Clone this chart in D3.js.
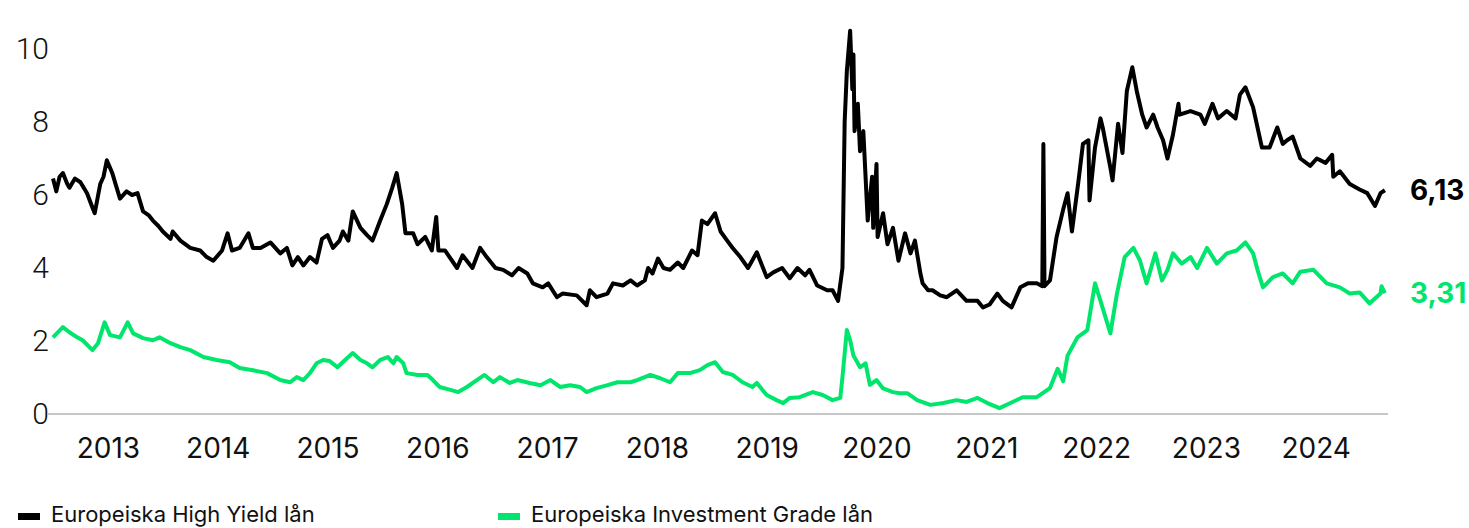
<!DOCTYPE html>
<html>
<head>
<meta charset="utf-8">
<script src="https://cdn.jsdelivr.net/npm/d3@7"></script>
<style>
  html, body { margin: 0; padding: 0; background: #fff; }
  svg { display: block; font-family: Inter, Roboto, sans-serif; }
</style>
</head>
<body>
<div id="chart"></div>
<script>
// decimal years + values
var hyDates = [2013.00,2013.03,2013.06,2013.09,2013.13,2013.15,2013.20,2013.25,2013.28,2013.31,2013.36,2013.38,2013.43,2013.46,2013.49,2013.54,2013.57,2013.61,2013.67,2013.72,2013.77,2013.82,2013.87,2013.91,2013.96,
  2014.00,2014.07,2014.09,2014.16,2014.25,2014.34,2014.40,2014.46,2014.54,2014.59,2014.63,2014.70,2014.78,2014.82,2014.89,2014.98,
  2015.07,2015.13,2015.18,2015.23,2015.28,2015.34,2015.40,2015.45,2015.50,2015.55,2015.61,2015.64,2015.69,2015.73,2015.80,2015.86,2015.91,2015.98,
  2016.04,2016.09,2016.13,2016.18,2016.21,2016.28,2016.32,2016.39,2016.45,2016.49,2016.51,2016.57,2016.68,2016.73,2016.82,2016.89,2016.95,
  2017.03,2017.10,2017.18,2017.24,2017.32,2017.37,2017.46,2017.51,2017.59,2017.64,2017.77,2017.86,2017.89,2017.95,
  2018.05,2018.10,2018.19,2018.26,2018.32,2018.39,2018.42,2018.46,2018.51,2018.56,2018.62,2018.69,2018.74,2018.82,2018.87,2018.91,2018.96,
  2019.03,2019.08,2019.14,2019.19,2019.26,2019.33,2019.41,2019.50,2019.56,2019.64,2019.71,2019.78,2019.85,2019.89,2019.96,
  2020.05,2020.10,2020.15,2020.19,2020.21,2020.23,2020.26,2020.28,2020.29,2020.30,2020.33,2020.35,2020.38,2020.42,2020.46,2020.47,2020.50,2020.51,2020.56,2020.60,2020.65,2020.70,2020.76,2020.81,2020.85,2020.90,2020.92,2020.97,
  2021.01,2021.08,2021.14,2021.23,2021.32,2021.42,2021.47,2021.53,2021.60,2021.65,2021.73,2021.81,2021.88,2021.96,
  2022.01,2022.02,2022.03,2022.08,2022.14,2022.20,2022.24,2022.28,2022.34,2022.38,2022.43,2022.44,2022.49,2022.54,2022.56,2022.63,2022.65,2022.70,2022.74,2022.78,2022.83,2022.87,2022.92,2022.96,
  2023.02,2023.06,2023.11,2023.15,2023.20,2023.25,2023.26,2023.36,2023.45,2023.49,2023.56,2023.61,2023.69,2023.77,2023.81,2023.86,2023.93,
  2024.01,2024.08,2024.15,2024.20,2024.24,2024.29,2024.36,2024.45,2024.51,2024.59,2024.65,2024.66,2024.72,2024.81,2024.90,2024.97,
  2025.04,2025.09,2025.13];
var hyValues = [6.45,6.10,6.50,6.60,6.30,6.20,6.45,6.35,6.20,6.05,5.65,5.50,6.30,6.50,6.95,6.60,6.30,5.90,6.10,6.00,6.05,5.55,5.45,5.30,5.15,
  5.00,4.80,5.00,4.75,4.55,4.48,4.30,4.20,4.48,4.95,4.48,4.55,4.95,4.55,4.55,4.70,
  4.40,4.55,4.07,4.30,4.07,4.30,4.15,4.80,4.90,4.55,4.75,5.00,4.75,5.55,5.10,4.90,4.75,5.30,
  5.75,6.20,6.60,5.75,4.95,4.95,4.65,4.85,4.48,5.40,4.48,4.48,4.00,4.35,4.00,4.55,4.30,
  4.00,3.95,3.80,4.00,3.85,3.58,3.47,3.58,3.20,3.30,3.25,2.98,3.39,3.20,
  3.30,3.58,3.52,3.66,3.52,3.66,4.00,3.85,4.26,4.00,3.95,4.15,4.00,4.48,4.35,5.30,5.20,
  5.50,5.00,4.75,4.55,4.30,4.00,4.43,3.75,3.88,4.00,3.72,4.00,3.80,3.95,3.52,
  3.39,3.39,3.10,4.00,8.00,9.40,10.50,8.90,9.85,7.75,8.50,7.20,7.75,5.30,6.50,5.10,6.85,4.85,5.50,4.65,5.10,4.20,4.95,4.40,4.75,3.85,3.58,3.39,
  3.39,3.25,3.20,3.39,3.10,3.10,2.92,3.00,3.30,3.10,2.92,3.47,3.58,3.58,
  3.50,7.40,3.50,3.66,4.85,5.60,6.05,5.00,6.40,7.40,7.50,5.85,7.30,8.10,7.85,6.75,6.40,7.95,7.15,8.85,9.50,8.85,8.20,7.85,
  8.20,7.85,7.50,7.00,7.65,8.50,8.20,8.30,8.20,7.95,8.50,8.10,8.30,8.10,8.75,8.95,8.40,
  7.30,7.30,7.85,7.40,7.50,7.60,7.00,6.80,7.00,6.88,7.10,6.50,6.65,6.30,6.15,6.05,
  5.70,6.05,6.13];

var igDates = [2013.00,2013.09,2013.15,2013.22,2013.27,2013.36,2013.41,2013.47,2013.52,2013.61,2013.68,2013.73,2013.82,2013.91,2013.97,
  2014.07,2014.16,2014.25,2014.37,2014.49,2014.61,2014.70,2014.82,2014.95,
  2015.07,2015.16,2015.22,2015.28,2015.34,2015.40,2015.46,2015.52,2015.59,2015.66,2015.73,2015.80,2015.86,2015.91,2015.98,
  2016.05,2016.10,2016.13,2016.19,2016.22,2016.32,2016.41,2016.46,2016.52,2016.62,2016.69,2016.77,2016.86,2016.93,
  2017.01,2017.07,2017.16,2017.23,2017.34,2017.44,2017.53,2017.62,2017.71,2017.80,2017.86,2017.95,
  2018.05,2018.14,2018.26,2018.32,2018.44,2018.53,2018.62,2018.69,2018.80,2018.89,2018.96,
  2019.03,2019.10,2019.19,2019.28,2019.37,2019.41,2019.50,2019.59,2019.65,2019.71,2019.80,2019.92,
  2020.01,2020.10,2020.17,2020.19,2020.23,2020.26,2020.29,2020.33,2020.35,2020.40,2020.44,2020.50,2020.56,2020.65,2020.71,2020.78,2020.87,2020.99,
  2021.11,2021.23,2021.32,2021.42,2021.51,2021.62,2021.72,2021.83,2021.96,
  2022.08,2022.15,2022.20,2022.24,2022.33,2022.42,2022.49,2022.54,2022.63,2022.69,2022.76,2022.84,2022.90,2022.96,
  2023.04,2023.10,2023.15,2023.20,2023.28,2023.36,2023.42,2023.51,2023.60,2023.69,2023.78,2023.86,2023.93,2023.97,
  2024.02,2024.11,2024.20,2024.29,2024.36,2024.48,2024.60,2024.72,2024.81,2024.90,2024.99,
  2025.09,2025.10,2025.13];
var igValues = [2.10,2.38,2.24,2.10,2.02,1.75,1.94,2.51,2.16,2.10,2.51,2.21,2.08,2.02,2.10,
  1.94,1.83,1.75,1.56,1.48,1.42,1.26,1.20,1.12,
  0.93,0.87,1.01,0.93,1.12,1.39,1.48,1.45,1.28,1.48,1.67,1.48,1.39,1.28,1.48,
  1.56,1.39,1.56,1.39,1.12,1.07,1.07,0.93,0.74,0.66,0.60,0.74,0.93,1.07,
  0.87,1.01,0.85,0.93,0.85,0.79,0.93,0.74,0.79,0.74,0.60,0.71,
  0.79,0.87,0.87,0.93,1.07,0.98,0.87,1.12,1.12,1.20,1.34,
  1.42,1.15,1.07,0.87,0.74,0.85,0.52,0.38,0.30,0.44,0.46,0.60,
  0.52,0.38,0.44,1.01,2.30,2.02,1.60,1.39,1.28,1.39,0.80,0.93,0.70,0.60,0.57,0.57,0.38,0.25,
  0.30,0.38,0.33,0.44,0.30,0.16,0.30,0.46,0.46,
  0.71,1.24,0.90,1.60,2.10,2.30,3.58,3.10,2.21,3.30,4.30,4.55,4.20,3.58,
  4.40,3.66,3.95,4.40,4.12,4.30,4.00,4.55,4.12,4.40,4.48,4.70,4.40,3.95,
  3.47,3.75,3.85,3.58,3.90,3.95,3.58,3.47,3.30,3.33,3.03,
  3.30,3.50,3.31];

var years = [2013,2014,2015,2016,2017,2018,2019,2020,2021,2022,2023,2024];
var yTicks = [0,2,4,6,8,10];
var seriesNames = ["Europeiska High Yield lån", "Europeiska Investment Grade lån"];
var lastLabels = ["6,13", "3,31"];
var colors = ["#000000", "#00e66c"];

var fullWidth = 1469, fullHeight = 528;

var svg = d3.select("#chart").append("svg")
  .attr("width", fullWidth).attr("height", fullHeight);

var xScale = d3.scaleLinear().domain([2013, 2025]).range([53, 1370.6]);
var yScale = d3.scaleLinear().domain([0, 10]).range([414, 49]);

// baseline
svg.append("line")
  .attr("x1", 48).attr("x2", 1388)
  .attr("y1", yScale(0)).attr("y2", yScale(0))
  .attr("stroke", "#c8c8c8").attr("stroke-width", 2);

// y axis labels
var yAxis = d3.axisLeft(yScale).tickValues(yTicks).tickSize(0).tickPadding(0);
var gy = svg.append("g").attr("transform", "translate(49,0)").call(yAxis);
gy.select(".domain").remove();
gy.selectAll("text")
  .style("font-family", "Roboto, Inter, sans-serif")
  .style("font-size", "30px").style("font-weight", 300).attr("fill", "#111");

// x axis year labels, centred mid-year
var xAxis = d3.axisBottom(xScale)
  .tickValues(years.map(function(y){ return y + 0.5; }))
  .tickFormat(function(d){ return Math.floor(d); })
  .tickSize(0).tickPadding(24);
var gx = svg.append("g").attr("transform", "translate(0," + yScale(0) + ")").call(xAxis);
gx.select(".domain").remove();
gx.selectAll("text")
  .style("font-family", "Inter, Roboto, sans-serif")
  .style("font-size", "28px").attr("fill", "#111");

var line = d3.line()
  .x(function(d){ return xScale(d[0]); })
  .y(function(d){ return yScale(d[1]); });

var series = [d3.zip(hyDates, hyValues), d3.zip(igDates, igValues)];

series.forEach(function(s, i){
  svg.append("path")
    .datum(s)
    .attr("d", line)
    .attr("fill", "none")
    .attr("stroke", colors[i])
    .attr("stroke-width", 4)
    .attr("stroke-linejoin", "round");
});

// end labels
series.forEach(function(s, i){
  var last = s[s.length - 1];
  svg.append("text")
    .attr("x", 1410)
    .attr("y", yScale(last[1]))
    .attr("dy", "0.35em")
    .attr("fill", colors[i])
    .style("font-size", "28px").style("font-weight", 700)
    .text(lastLabels[i]);
});

// legend
var legendX = [18, 498];
seriesNames.forEach(function(name, i){
  svg.append("rect")
    .attr("x", legendX[i]).attr("y", 513)
    .attr("width", 22).attr("height", 7)
    .attr("fill", colors[i]);
  svg.append("text")
    .attr("x", legendX[i] + 33).attr("y", 522)
    .attr("fill", "#111")
    .style("font-size", "22px")
    .text(name);
});
</script>
</body>
</html>
